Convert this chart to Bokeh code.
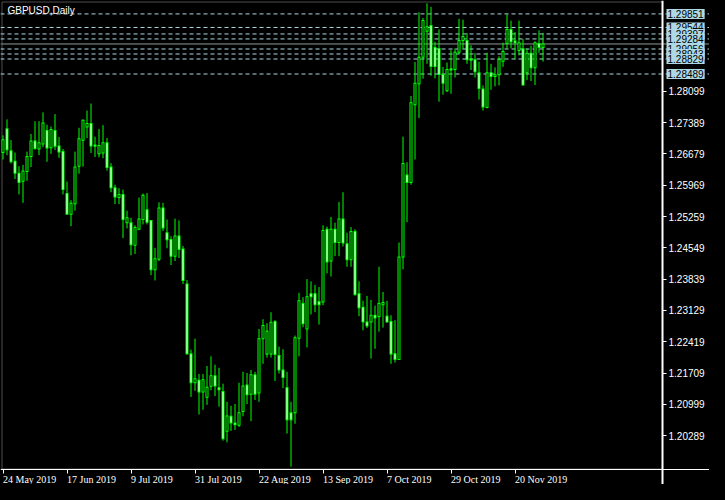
import pandas as pd
from bokeh.plotting import figure
from bokeh.models import (Range1d, FixedTicker, Span, Label, LabelSet, LinearAxis,
                          ColumnDataSource, PrintfTickFormatter, BoxAnnotation)
from bokeh.embed import file_html
from bokeh.resources import INLINE

chart_title = "GBPUSD,Daily"

opens = [1.2671, 1.2725, 1.2675, 1.2651, 1.2624, 1.2606, 1.2628, 1.2662, 1.2697, 1.2679,
         1.2690, 1.2721, 1.2682, 1.2721, 1.2686, 1.2673, 1.2578, 1.2531, 1.2555, 1.2640,
         1.2699, 1.2729, 1.2737, 1.2688, 1.2668, 1.2670, 1.2693, 1.2638, 1.2591, 1.2569,
         1.2576, 1.2512, 1.2512, 1.2461, 1.2497, 1.2519, 1.2541, 1.2517, 1.2405, 1.2429,
         1.2545, 1.2489, 1.2474, 1.2436, 1.2482, 1.2452, 1.2373, 1.2215, 1.2149, 1.2155,
         1.2128, 1.2116, 1.2141, 1.2165, 1.2138, 1.2129, 1.2039, 1.2073, 1.2058, 1.2053,
         1.2084, 1.2144, 1.2123, 1.2167, 1.2126, 1.2249, 1.2214, 1.2214, 1.2288, 1.2211,
         1.2178, 1.2138, 1.2081, 1.2081, 1.2250, 1.2329, 1.2271, 1.2351, 1.2351, 1.2333,
         1.2332, 1.2497, 1.2425, 1.2497, 1.2467, 1.2520, 1.2464, 1.2428, 1.2492, 1.2351,
         1.2320, 1.2287, 1.2287, 1.2302, 1.2299, 1.2326, 1.2300, 1.2288, 1.2215, 1.2202,
         1.2434, 1.2620, 1.2603, 1.2779, 1.2827, 1.2887, 1.2946, 1.2959, 1.2909, 1.2907,
         1.2848, 1.2811, 1.2861, 1.2859, 1.2898, 1.2925, 1.2925, 1.2883, 1.2881, 1.2852,
         1.2815, 1.2773, 1.2852, 1.2843, 1.2847, 1.2878, 1.2918, 1.2950, 1.2924, 1.2902,
         1.2906, 1.2852, 1.2896, 1.2863, 1.2918, 1.2909]
highs = [1.2710, 1.2746, 1.2699, 1.2671, 1.2640, 1.2643, 1.2673, 1.2713, 1.2742, 1.2742,
         1.2762, 1.2734, 1.2730, 1.2758, 1.2706, 1.2679, 1.2605, 1.2563, 1.2673, 1.2727,
         1.2746, 1.2766, 1.2782, 1.2707, 1.2724, 1.2733, 1.2704, 1.2647, 1.2598, 1.2590,
         1.2587, 1.2539, 1.2523, 1.2506, 1.2569, 1.2578, 1.2579, 1.2518, 1.2455, 1.2558,
         1.2557, 1.2519, 1.2481, 1.2521, 1.2517, 1.2459, 1.2382, 1.2224, 1.2249, 1.2169,
         1.2169, 1.2187, 1.2209, 1.2190, 1.2183, 1.2147, 1.2106, 1.2097, 1.2101, 1.2149,
         1.2174, 1.2171, 1.2178, 1.2174, 1.2271, 1.2293, 1.2284, 1.2309, 1.2291, 1.2231,
         1.2225, 1.2174, 1.2106, 1.2256, 1.2353, 1.2343, 1.2384, 1.2379, 1.2371, 1.2366,
         1.2506, 1.2503, 1.2525, 1.2512, 1.2559, 1.2581, 1.2489, 1.2502, 1.2497, 1.2379,
         1.2335, 1.2346, 1.2337, 1.2324, 1.2412, 1.2355, 1.2335, 1.2302, 1.2291, 1.2467,
         1.2707, 1.2649, 1.2799, 1.2876, 1.2989, 1.2976, 1.3009, 1.3001, 1.2922, 1.2950,
         1.2865, 1.2875, 1.2903, 1.2907, 1.2974, 1.2972, 1.2942, 1.2914, 1.2896, 1.2877,
         1.2823, 1.2897, 1.2872, 1.2864, 1.2889, 1.2920, 1.2984, 1.2970, 1.2944, 1.2970,
         1.2928, 1.2906, 1.2913, 1.2923, 1.2948, 1.2942]
lows = [1.2655, 1.2665, 1.2646, 1.2611, 1.2576, 1.2557, 1.2607, 1.2638, 1.2677, 1.2665,
        1.2683, 1.2650, 1.2668, 1.2677, 1.2659, 1.2576, 1.2530, 1.2504, 1.2539, 1.2623,
        1.2639, 1.2704, 1.2670, 1.2661, 1.2660, 1.2658, 1.2630, 1.2581, 1.2554, 1.2554,
        1.2477, 1.2499, 1.2438, 1.2441, 1.2495, 1.2508, 1.2508, 1.2393, 1.2381, 1.2425,
        1.2493, 1.2454, 1.2416, 1.2425, 1.2432, 1.2373, 1.2212, 1.2117, 1.2131, 1.2077,
        1.2088, 1.2099, 1.2132, 1.2119, 1.2095, 1.2018, 1.2014, 1.2040, 1.2042, 1.2049,
        1.2073, 1.2101, 1.2062, 1.2110, 1.2106, 1.2192, 1.2206, 1.2206, 1.2153, 1.2170,
        1.2137, 1.2034, 1.1959, 1.2056, 1.2209, 1.2275, 1.2229, 1.2304, 1.2309, 1.2281,
        1.2325, 1.2397, 1.2390, 1.2436, 1.2436, 1.2458, 1.2412, 1.2412, 1.2346, 1.2300,
        1.2268, 1.2273, 1.2204, 1.2226, 1.2265, 1.2274, 1.2285, 1.2192, 1.2195, 1.2201,
        1.2406, 1.2513, 1.2598, 1.2655, 1.2749, 1.2838, 1.2872, 1.2845, 1.2839, 1.2786,
        1.2802, 1.2808, 1.2804, 1.2841, 1.2894, 1.2905, 1.2872, 1.2858, 1.2841, 1.2791,
        1.2766, 1.2771, 1.2813, 1.2821, 1.2823, 1.2865, 1.2906, 1.2907, 1.2882, 1.2891,
        1.2823, 1.2835, 1.2833, 1.2824, 1.2897, 1.2877]
closes = [1.2700, 1.2677, 1.2650, 1.2624, 1.2603, 1.2629, 1.2662, 1.2697, 1.2680, 1.2693,
          1.2738, 1.2681, 1.2723, 1.2685, 1.2672, 1.2587, 1.2531, 1.2556, 1.2638, 1.2702,
          1.2744, 1.2737, 1.2686, 1.2685, 1.2687, 1.2693, 1.2637, 1.2591, 1.2570, 1.2576,
          1.2519, 1.2523, 1.2462, 1.2501, 1.2520, 1.2574, 1.2513, 1.2405, 1.2430, 1.2545,
          1.2500, 1.2473, 1.2436, 1.2482, 1.2451, 1.2381, 1.2215, 1.2149, 1.2158, 1.2128,
          1.2156, 1.2139, 1.2165, 1.2142, 1.2133, 1.2022, 1.2074, 1.2058, 1.2054, 1.2081,
          1.2142, 1.2122, 1.2167, 1.2123, 1.2249, 1.2279, 1.2266, 1.2286, 1.2213, 1.2178,
          1.2161, 1.2065, 1.2065, 1.2251, 1.2335, 1.2283, 1.2344, 1.2344, 1.2326, 1.2326,
          1.2494, 1.2423, 1.2497, 1.2467, 1.2520, 1.2466, 1.2428, 1.2492, 1.2349, 1.2319,
          1.2287, 1.2278, 1.2302, 1.2296, 1.2329, 1.2331, 1.2287, 1.2214, 1.2202, 1.2434,
          1.2646, 1.2603, 1.2784, 1.2828, 1.2887, 1.2970, 1.2956, 1.2866, 1.2866, 1.2848,
          1.2828, 1.2859, 1.2858, 1.2898, 1.2925, 1.2934, 1.2881, 1.2880, 1.2854, 1.2816,
          1.2774, 1.2852, 1.2843, 1.2847, 1.2882, 1.2900, 1.2950, 1.2922, 1.2920, 1.2920,
          1.2824, 1.2896, 1.2863, 1.2920, 1.2909, 1.2917]

tick_labels = ["24 May 2019", "17 Jun 2019", "9 Jul 2019", "31 Jul 2019", "22 Aug 2019",
               "13 Sep 2019", "7 Oct 2019", "29 Oct 2019", "20 Nov 2019"]
price_ticks = [1.20289, 1.20999, 1.21709, 1.22419, 1.23129, 1.23839,
               1.24549, 1.25259, 1.25969, 1.26679, 1.27389, 1.28099]
levels = [1.29851, 1.29544, 1.29397, 1.29284, 1.29056, 1.28943, 1.28829, 1.28489]

# ---- style / layout constants (pixels) ----
FONT = "Liberation Sans"
GREEN = "#00FF00"
LEVEL_COLOR = "#ADD8E6"
FIG_W, FIG_H = 709, 484
PX_PER_BAR = 4.0
BODY_OUTER_PX = 3.0
BODY_INNER_PX = 1.0
FIRST_BAR_PX = 2.5      # centre of first candle
BORDER_PX = 1.5         # left border line
AXIS_X_PX = 662         # price axis line
TOP_PX = 2.0            # highest high
BOTTOM_PX = 467.0       # lowest low
AXIS_Y_PX = 468.5       # time axis line

dates = pd.bdate_range("2019-05-24", "2019-11-29")
date_strs = [f"{d.day} {d.strftime('%b')} {d.year}" for d in dates]
idx = list(range(len(opens)))
tick_pos = [date_strs.index(t) for t in tick_labels]

# horizontal scale: bars -> pixels
x_start = -FIRST_BAR_PX / PX_PER_BAR
x_end = x_start + FIG_W / PX_PER_BAR
bx = lambda px: x_start + px / PX_PER_BAR

# vertical scale: prices -> pixels
y_top_val = max(highs) + 0.0002
y_bot_val = min(lows) - 0.0002
ppu = (BOTTOM_PX - TOP_PX) / (y_top_val - y_bot_val)
y_end = y_top_val + TOP_PX / ppu
y_start = y_bot_val - (FIG_H - BOTTOM_PX) / ppu
py = lambda px: y_end - px / ppu
half_px = 0.5 / ppu

tops = [max(o, c) for o, c in zip(opens, closes)]
bottoms = [min(o, c) for o, c in zip(opens, closes)]
fills = ["black" if c >= o else "white" for o, c in zip(opens, closes)]

src = ColumnDataSource(dict(x=idx, high=highs, low=lows,
                            otop=[t + half_px for t in tops],
                            obot=[b - half_px for b in bottoms]))
inner = [i for i in idx if (tops[i] - bottoms[i]) * ppu > 1.0]
src_in = ColumnDataSource(dict(x=inner,
                               itop=[tops[i] - half_px for i in inner],
                               ibot=[bottoms[i] + half_px for i in inner],
                               fill=[fills[i] for i in inner]))

p = figure(width=FIG_W, height=FIG_H, output_backend="svg", toolbar_location=None,
           x_range=Range1d(x_start, x_end), y_range=Range1d(y_start, y_end),
           x_axis_location=None, y_axis_location=None,
           min_border_left=0, min_border_right=0, min_border_top=0, min_border_bottom=0,
           background_fill_color="black", border_fill_color="black",
           outline_line_color=None)
p.grid.visible = False

# chart border (left / top)
p.add_layout(BoxAnnotation(left=bx(BORDER_PX), right=bx(AXIS_X_PX), top=py(1.5), bottom=py(AXIS_Y_PX),
                           fill_color=None, line_color="white", line_width=1, level="underlay"))

for lvl in levels:
    p.add_layout(Span(location=lvl, dimension="width", line_color=LEVEL_COLOR,
                      line_dash="4 3", line_width=1, level="underlay"))
p.add_layout(Span(location=closes[-1], dimension="width", line_color="#8E9898",
                  line_width=1, level="underlay"))

# candles: wick, green body frame, white/black body interior
p.segment(x0="x", y0="low", x1="x", y1="high", source=src, line_color=GREEN, line_width=1)
p.vbar(x="x", width=BODY_OUTER_PX / PX_PER_BAR, top="otop", bottom="obot", source=src,
       fill_color=GREEN, line_color=None)
p.vbar(x="x", width=BODY_INNER_PX / PX_PER_BAR, top="itop", bottom="ibot", source=src_in,
       fill_color="fill", line_color=None)

# price axis (right side, fixed at the chart edge)
ya = LinearAxis(fixed_location=bx(AXIS_X_PX))
ya.ticker = FixedTicker(ticks=price_ticks)
ya.formatter = PrintfTickFormatter(format="%.5f")
ya.axis_line_color = "white"
ya.axis_line_width = 2
ya.major_tick_line_color = "white"
ya.major_tick_out = 4
ya.major_tick_in = 0
ya.minor_tick_line_color = None
ya.major_label_text_color = "white"
ya.major_label_text_font = FONT
ya.major_label_text_font_size = "10px"
ya.major_label_standoff = 2
p.add_layout(ya, "right")

# time axis (bottom, fixed at the chart edge)
xa = LinearAxis(fixed_location=py(AXIS_Y_PX))
xa.ticker = FixedTicker(ticks=tick_pos)
xa.axis_line_color = "white"
xa.major_tick_line_color = "white"
xa.major_tick_out = 4
xa.major_tick_in = 0
xa.minor_tick_line_color = None
xa.major_label_text_color = None
xa.major_label_text_font_size = "1px"
xa.major_label_standoff = 0
p.add_layout(xa, "below")

date_src = ColumnDataSource(dict(x=tick_pos, y=[py(AXIS_Y_PX + 5)] * len(tick_pos), text=tick_labels))
p.add_layout(LabelSet(x="x", y="y", text="text", source=date_src,
                      text_align="left", text_baseline="top", text_color="white",
                      text_font=FONT, text_font_size="10px"))

p.add_layout(Label(x=bx(7), y=py(4), text=chart_title,
                   text_align="left", text_baseline="top", text_color="white",
                   text_font=FONT, text_font_size="10px"))

for lvl in levels:
    p.add_layout(Label(x=bx(AXIS_X_PX + 4), y=lvl, text=f"{lvl:.5f}",
                       text_align="left", text_baseline="middle", text_color="black",
                       text_font=FONT, text_font_size="10px",
                       background_fill_color=LEVEL_COLOR, padding=1))

html = file_html(p, INLINE, title=chart_title)
html = html.replace("</head>", "<style>html, body { background: #000000; }</style></head>")
open("out.html", "w").write(html)
